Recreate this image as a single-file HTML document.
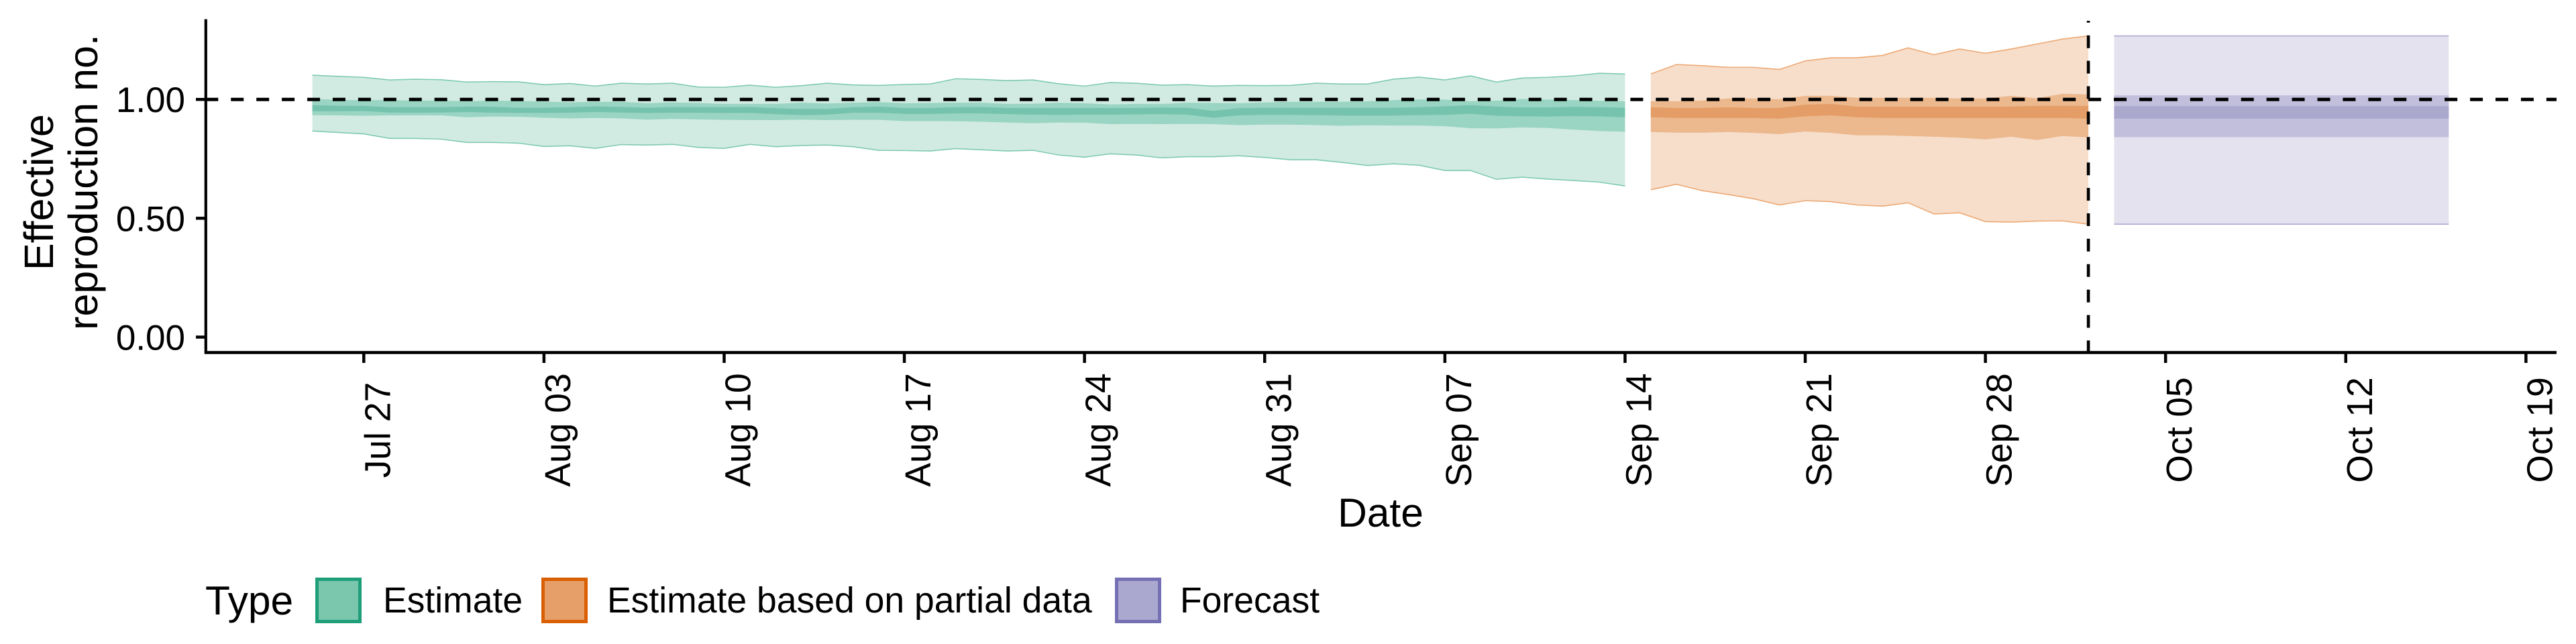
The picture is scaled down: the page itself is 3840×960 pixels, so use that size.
<!DOCTYPE html>
<html lang="en">
<head>
<meta charset="utf-8">
<title>Effective reproduction number</title>
<style>
html,body{margin:0;padding:0;background:#fff;}
body{width:3840px;height:960px;overflow:hidden;}
svg{display:block;}
text{font-family:"Liberation Sans",Arial,sans-serif;fill:#000;}
</style>
</head>
<body>
<svg id="chart" xmlns="http://www.w3.org/2000/svg" width="3840" height="960" viewBox="0 0 3840 960">
  <rect x="0" y="0" width="3840" height="960" fill="#fff"/>
  <g id="ribbons"></g>
  <g id="reference-lines"></g>
  <g id="axes"></g>
  <text transform="translate(79,403) rotate(-90)" font-size="61">Effective</text>
  <text transform="translate(145,492) rotate(-90)" font-size="61">reproduction no.</text>
  <text x="2058" y="785" font-size="60.5" text-anchor="middle">Date</text>
  <g>
    <text x="306" y="916" font-size="60.5">Type</text>
    <g>
      <rect x="472.5" y="863.5" width="64" height="63" fill="#7AC7AE" stroke="#1F9F79" stroke-width="5"/>
      <text x="571" y="913" font-size="53.5">Estimate</text>
    </g>
    <g>
      <rect x="809.5" y="863.5" width="64" height="63" fill="#E69F68" stroke="#D95F02" stroke-width="5"/>
      <text x="905" y="913" font-size="53.5">Estimate based on partial data</text>
    </g>
    <g>
      <rect x="1664.5" y="863.5" width="64" height="63" fill="#ABA8CF" stroke="#7570B3" stroke-width="5"/>
      <text x="1759" y="913" font-size="53.5">Forecast</text>
    </g>
  </g>
</svg>
<script>
// Days are counted from Jul 27.
const xTickDays = [0, 7, 14, 21, 28, 35, 42, 49, 56, 63, 70, 77, 84];
const xTickLabels = ['Jul 27', 'Aug 03', 'Aug 10', 'Aug 17', 'Aug 24', 'Aug 31', 'Sep 07', 'Sep 14', 'Sep 21', 'Sep 28', 'Oct 05', 'Oct 12', 'Oct 19'];
const yTickValues = [0, 0.5, 1];
const yTickLabels = ['0.00', '0.50', '1.00'];
const referenceR = 1;
const forecastStartDay = 67;

const estimateDays = [-2,-1,0,1,2,3,4,5,6,7,8,9,10,11,12,13,14,15,16,17,18,19,20,21,22,23,24,25,26,27,28,29,30,31,32,33,34,35,36,37,38,39,40,41,42,43,44,45,46,47,48,49];
const estimateUpper90 = [1.102,1.097,1.093,1.082,1.085,1.083,1.073,1.075,1.074,1.062,1.067,1.056,1.068,1.065,1.068,1.052,1.051,1.060,1.051,1.058,1.068,1.061,1.059,1.063,1.065,1.087,1.084,1.079,1.082,1.066,1.056,1.071,1.068,1.060,1.062,1.056,1.059,1.058,1.059,1.068,1.065,1.065,1.085,1.094,1.082,1.099,1.073,1.090,1.093,1.099,1.110,1.107];
const estimateLower90 = [0.867,0.861,0.855,0.836,0.836,0.833,0.819,0.819,0.816,0.802,0.805,0.794,0.810,0.808,0.811,0.798,0.794,0.811,0.801,0.806,0.808,0.801,0.786,0.785,0.783,0.793,0.788,0.783,0.786,0.766,0.757,0.771,0.766,0.754,0.759,0.759,0.763,0.756,0.746,0.746,0.735,0.722,0.729,0.723,0.701,0.701,0.664,0.673,0.665,0.659,0.652,0.636];
const estimateUpper50 = [1.003,0.997,0.997,0.997,0.995,0.995,0.992,0.995,0.993,0.991,0.988,0.990,0.990,0.984,0.987,0.985,0.981,0.981,0.981,0.986,0.983,0.986,0.989,0.984,0.985,0.986,0.986,0.981,0.982,0.986,0.984,0.979,0.981,0.981,0.986,0.985,0.984,0.987,0.990,0.990,0.990,0.992,0.997,1.000,0.999,0.992,0.995,1.002,0.999,0.997,0.994,0.992];
const estimateLower50 = [0.934,0.933,0.931,0.933,0.933,0.933,0.925,0.928,0.927,0.923,0.920,0.922,0.920,0.915,0.918,0.916,0.914,0.913,0.913,0.915,0.913,0.914,0.914,0.909,0.909,0.908,0.906,0.903,0.900,0.903,0.902,0.896,0.897,0.896,0.897,0.896,0.892,0.894,0.894,0.892,0.889,0.891,0.890,0.890,0.887,0.879,0.878,0.882,0.880,0.873,0.867,0.864];
const estimateUpper20 = [0.976,0.973,0.973,0.967,0.967,0.967,0.970,0.969,0.965,0.965,0.967,0.971,0.968,0.965,0.968,0.967,0.967,0.968,0.963,0.960,0.960,0.967,0.970,0.964,0.964,0.967,0.968,0.964,0.964,0.964,0.964,0.964,0.964,0.966,0.965,0.952,0.963,0.965,0.965,0.965,0.965,0.965,0.965,0.967,0.971,0.976,0.970,0.966,0.966,0.969,0.967,0.965];
const estimateLower20 = [0.950,0.950,0.951,0.945,0.944,0.945,0.947,0.944,0.943,0.943,0.944,0.947,0.945,0.943,0.944,0.944,0.943,0.943,0.938,0.934,0.936,0.944,0.944,0.939,0.939,0.941,0.941,0.938,0.936,0.935,0.936,0.936,0.937,0.938,0.936,0.923,0.933,0.935,0.935,0.934,0.932,0.932,0.932,0.934,0.935,0.940,0.931,0.929,0.928,0.930,0.929,0.925];

const partialDays = [50,51,52,53,54,55,56,57,58,59,60,61,62,63,64,65,66,67];
const partialUpper90 = [1.107,1.147,1.142,1.135,1.135,1.126,1.162,1.175,1.175,1.185,1.217,1.188,1.212,1.194,1.212,1.233,1.254,1.267];
const partialLower90 = [0.620,0.643,0.616,0.600,0.582,0.556,0.574,0.570,0.556,0.551,0.565,0.518,0.523,0.486,0.484,0.488,0.489,0.475];
const partialUpper50 = [0.992,0.992,0.995,1.004,1.004,1.001,1.015,1.015,1.007,1.007,1.007,1.007,1.004,1.004,1.015,1.005,1.024,1.021];
const partialLower50 = [0.863,0.860,0.860,0.863,0.859,0.854,0.865,0.859,0.849,0.849,0.846,0.843,0.839,0.832,0.843,0.829,0.846,0.840];
const partialUpper20 = [0.967,0.964,0.964,0.967,0.964,0.964,0.978,0.981,0.970,0.970,0.970,0.970,0.970,0.970,0.970,0.973,0.973,0.973];
const partialLower20 = [0.925,0.922,0.922,0.922,0.922,0.919,0.929,0.933,0.925,0.922,0.922,0.922,0.922,0.922,0.922,0.922,0.922,0.919];

const forecastDays = [68,69,70,71,72,73,74,75,76,77,78,79,80,81];
const forecastUpper90 = [1.267,1.267,1.267,1.267,1.267,1.267,1.267,1.267,1.267,1.267,1.267,1.267,1.267,1.267];
const forecastLower90 = [0.475,0.475,0.475,0.475,0.475,0.475,0.475,0.475,0.475,0.475,0.475,0.475,0.475,0.475];
const forecastUpper50 = [1.017,1.017,1.017,1.017,1.017,1.017,1.017,1.017,1.017,1.017,1.017,1.017,1.017,1.017];
const forecastLower50 = [0.841,0.841,0.841,0.841,0.841,0.841,0.841,0.841,0.841,0.841,0.841,0.841,0.841,0.841];
const forecastUpper20 = [0.972,0.972,0.972,0.972,0.972,0.972,0.972,0.972,0.972,0.972,0.972,0.972,0.972,0.972];
const forecastLower20 = [0.919,0.919,0.919,0.919,0.919,0.919,0.919,0.919,0.919,0.919,0.919,0.919,0.919,0.919];

const SVGNS = 'http://www.w3.org/2000/svg';
function xScale(day) { return 542.3 + day * 38.37; }
function yScale(v) { return 502.5 - v * 354.3; }
function make(tag, attrs, parent) {
  const el = document.createElementNS(SVGNS, tag);
  Object.keys(attrs).forEach(function (k) { el.setAttribute(k, attrs[k]); });
  parent.appendChild(el);
  return el;
}
function linePoints(days, vals) {
  return days.map(function (d, i) { return xScale(d).toFixed(2) + ',' + yScale(vals[i]).toFixed(2); }).join(' ');
}
function bandPoints(days, up, lo) {
  return linePoints(days, up) + ' ' + linePoints(days.slice().reverse(), lo.slice().reverse());
}

const ribbons = document.getElementById('ribbons');
function drawSeries(key, days, u90, l90, u50, l50, u20, l20, c90, c50, c20, edge) {
  const outer = make('polygon', { points: bandPoints(days, u90, l90), fill: c90 }, ribbons);
  
  
  const mid = make('polygon', { points: bandPoints(days, u50, l50), fill: c50 }, ribbons);
  
  
  const inner = make('polygon', { points: bandPoints(days, u20, l20), fill: c20 }, ribbons);
  
  
  const top = make('polyline', { points: linePoints(days, u90), fill: 'none', stroke: edge, 'stroke-width': 1.6 }, ribbons);
  
  
  const bottom = make('polyline', { points: linePoints(days, l90), fill: 'none', stroke: edge, 'stroke-width': 1.6 }, ribbons);
  
  
}
drawSeries('estimate', estimateDays, estimateUpper90, estimateLower90, estimateUpper50, estimateLower50, estimateUpper20, estimateLower20, '#D1EBE2', '#9AD4C2', '#75C3AD', '#80CAB2');
drawSeries('partial', partialDays, partialUpper90, partialLower90, partialUpper50, partialLower50, partialUpper20, partialLower20, '#F6DECB', '#ECB88E', '#E49D66', '#EDA873');
drawSeries('forecast', forecastDays, forecastUpper90, forecastLower90, forecastUpper50, forecastLower50, forecastUpper20, forecastLower20, '#E3E2EE', '#C2BFDC', '#ABA8CE', '#ADAAD0');

const refs = document.getElementById('reference-lines');
const hLine = make('line', { x1: 306.3, x2: 3811, y1: yScale(referenceR), y2: yScale(referenceR), stroke: '#000', 'stroke-width': 5, 'stroke-dasharray': '19 18.93' }, refs);


const vLine = make('line', { x1: xScale(forecastStartDay), x2: xScale(forecastStartDay), y1: 526.5, y2: 31, stroke: '#000', 'stroke-width': 4.6, 'stroke-dasharray': '19 18.9' }, refs);



const axes = document.getElementById('axes');
const yAxis = make('line', { x1: 306.8, x2: 306.8, y1: 28.6, y2: 527.5, stroke: '#000', 'stroke-width': 4.2 }, axes);


const xAxis = make('line', { x1: 305, x2: 3811, y1: 525.5, y2: 525.5, stroke: '#000', 'stroke-width': 4.6 }, axes);



yTickValues.forEach(function (v, i) {
  const y = yScale(v);
  const tick = make('line', { x1: 292, x2: 305, y1: y, y2: y, stroke: '#000', 'stroke-width': 4.5 }, axes);
  
  
  const label = make('text', { x: 276, y: y + 19, 'font-size': 53, 'text-anchor': 'end' }, axes);
  
  
  label.textContent = yTickLabels[i];
});
xTickDays.forEach(function (d, i) {
  const x = xScale(d);
  const tick = make('line', { x1: x, x2: x, y1: 527, y2: 541, stroke: '#000', 'stroke-width': 4.5 }, axes);
  
  
  const label = make('text', { transform: 'translate(' + (x + 39) + ',641) rotate(-90)', 'font-size': 53.5, 'text-anchor': 'middle' }, axes);
  
  
  label.textContent = xTickLabels[i];
});
</script>
</body>
</html>
